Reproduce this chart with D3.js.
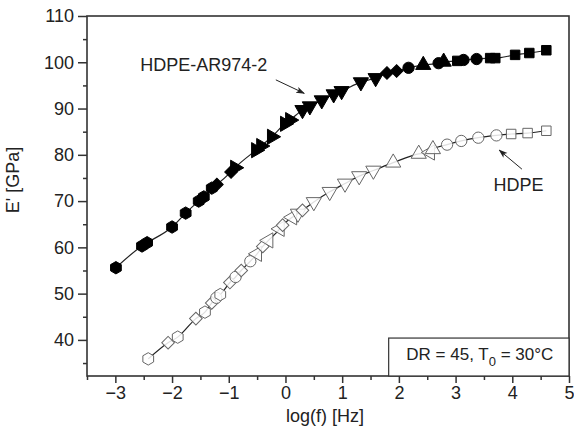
<!DOCTYPE html>
<html>
<head>
<meta charset="utf-8">
<script src="https://cdn.jsdelivr.net/npm/d3@7"></script>
<style>
  body { margin: 0; background: #fff; }
  text { font-family: "Liberation Sans", Arial, sans-serif; fill: #222; }
</style>
</head>
<body>
<div id="chart"></div>
<script>
// filled series: HDPE-AR974-2  [log f, E', shape]
const arX = [-2.99, -2.53, -2.44, -2.00, -1.76, -1.53, -1.44, -1.30,
             -1.21, -0.96,
             -0.89, -0.52, -0.43, -0.24, -0.01, 0.08,
             0.30, 0.43, 0.64, 0.85, 0.99, 1.33, 1.59,
             1.79, 1.96,
             2.17, 2.43, 2.70, 2.79,
             3.03, 3.14, 3.37, 3.61, 3.70, 4.05, 4.30, 4.60];
const arY = [55.6, 60.3, 61.0, 64.4, 67.4, 70.0, 70.9, 72.8,
             73.6, 76.3,
             77.2, 81.0, 81.9, 83.9, 86.7, 87.5,
             89.7, 90.5, 91.8, 93.1, 93.8, 95.7, 96.6,
             97.7, 98.1,
             98.8, 99.4, 99.8, 100.1,
             100.3, 100.5, 100.7, 100.9, 100.9, 101.6, 102.0, 102.6];
const arShape = ["hex", "hex", "hex", "hex", "hex", "hex", "hex", "hex",
                 "dia", "dia",
                 "tri-r", "tri-r", "tri-r", "tri-r", "tri-r", "tri-r",
                 "tri-d", "tri-d", "tri-d", "tri-d", "tri-d", "tri-d", "tri-d",
                 "dia", "dia",
                 "circ", "tri-u", "circ", "tri-u",
                 "sq", "circ", "circ", "sq", "sq", "sq", "sq", "sq"];

// open series: HDPE
const hdX = [-2.42, -2.07, -1.90, -1.58, -1.42, -1.30, -1.22, -1.15,
             -0.98, -0.88, -0.78, -0.62, -0.50, -0.40, -0.30, -0.10, -0.05,
             0.12, 0.22, 0.30, 0.50, 0.78, 1.05, 1.30, 1.55,
             1.90, 2.35, 2.55, 2.60,
             2.85, 3.10, 3.40, 3.72, 3.98, 4.27, 4.60];
const hdY = [35.9, 39.4, 40.6, 44.6, 46.0, 48.0, 49.1, 49.8,
             52.4, 53.6, 55.0, 57.0, 58.6, 60.2, 61.5, 64.0, 64.8,
             66.5, 67.3, 68.0, 69.8, 72.0, 73.8, 75.4, 76.6,
             78.3, 80.2, 80.5, 81.2,
             82.2, 83.0, 83.7, 84.2, 84.5, 84.7, 85.2];
const hdShape = ["hex", "dia", "hex", "dia", "hex", "dia", "circ", "hex",
                 "dia", "circ", "dia", "circ", "tri-l", "dia", "tri-l", "tri-l", "dia",
                 "tri-l", "tri-d", "dia", "tri-d", "tri-d", "tri-d", "tri-d", "tri-d",
                 "tri-u", "tri-u", "tri-l", "tri-u",
                 "circ", "circ", "circ", "circ", "sq", "sq", "sq"];

const xTicks = [-3, -2, -1, 0, 1, 2, 3, 4, 5];
const yTicks = [40, 50, 60, 70, 80, 90, 100, 110];

const margin = {top: 16, right: 5, bottom: 53, left: 87},
      width = 574 - margin.left - margin.right,
      height = 429 - margin.top - margin.bottom;

const svg = d3.select("#chart").append("svg")
  .attr("width", 574).attr("height", 429);
const g = svg.append("g").attr("transform", `translate(${margin.left},${margin.top})`);

const x = d3.scaleLinear().domain([-3.5, 5]).range([0, width]);
const y = d3.scaleLinear().domain([32.2, 110]).range([height, 0]);

const fmt = d => (d < 0 ? "\u2212" + Math.abs(d) : "" + d);

// axes
const xAxis = g.append("g").attr("transform", `translate(0,${height})`)
  .call(d3.axisBottom(x).tickValues(xTicks).tickFormat(fmt).tickSize(7).tickSizeOuter(0).tickPadding(3));
const xMinor = g.append("g").attr("transform", `translate(0,${height})`)
  .call(d3.axisBottom(x).tickValues(d3.range(-3.5, 5, 1)).tickFormat("").tickSize(4).tickSizeOuter(0));
const yAxis = g.append("g")
  .call(d3.axisLeft(y).tickValues(yTicks).tickSize(9).tickSizeOuter(0).tickPadding(4));
const yMinor = g.append("g")
  .call(d3.axisLeft(y).tickValues(d3.range(35, 110, 10)).tickFormat("").tickSize(4).tickSizeOuter(0));

[xAxis, xMinor, yAxis, yMinor].forEach(a => {
  a.select(".domain").remove();
  a.selectAll("line").attr("stroke", "#333").attr("stroke-width", 1.5);
  a.selectAll("text").style("font-size", "18px").attr("fill", "#222");
});

// frame
g.append("rect").attr("width", width).attr("height", height)
  .attr("fill", "none").attr("stroke", "#333").attr("stroke-width", 1.6);

// axis titles
g.append("text").attr("x", width / 2 - 3).attr("y", height + 46)
  .attr("text-anchor", "middle").style("font-size", "18px").text("log(f) [Hz]");
g.append("text").attr("transform", `translate(${-68},${164}) rotate(-90)`)
  .attr("text-anchor", "middle").style("font-size", "18px").text("E' [GPa]");

// symbol types
const hexagon = {
  draw(ctx, size) {
    const r = Math.sqrt(size / (1.5 * Math.sqrt(3)));
    for (let i = 0; i < 6; i++) {
      const a = Math.PI / 6 + i * Math.PI / 3;
      if (i === 0) ctx.moveTo(r * Math.cos(a), r * Math.sin(a));
      else ctx.lineTo(r * Math.cos(a), r * Math.sin(a));
    }
    ctx.closePath();
  }
};
const shapeDefs = {
  "hex":   {type: hexagon, size: 100, rot: 0},
  "dia":   {type: d3.symbolSquare, size: 80, rot: 45},
  "circ":  {type: d3.symbolCircle, size: 100, rot: 0},
  "sq":    {type: d3.symbolSquare, size: 90, rot: 0},
  "tri-u": {type: d3.symbolTriangle, size: 100, rot: 0},
  "tri-d": {type: d3.symbolTriangle, size: 100, rot: 180},
  "tri-l": {type: d3.symbolTriangle, size: 100, rot: -90},
  "tri-r": {type: d3.symbolTriangle, size: 100, rot: 90}
};

function drawSeries(xs, ys, shapes, filled) {
  const pts = xs.map((v, i) => ({x: v, y: ys[i], s: shapes[i]}));
  const sorted = pts.slice().sort((a, b) => a.x - b.x);
  g.append("path").datum(sorted)
    .attr("fill", "none").attr("stroke", "#222").attr("stroke-width", 1.2)
    .attr("d", d3.line().x(d => x(d.x)).y(d => y(d.y)).curve(d3.curveMonotoneX));
  g.selectAll(null).data(pts).enter().append("path")
    .attr("transform", d => `translate(${x(d.x)},${y(d.y)}) rotate(${shapeDefs[d.s].rot})`)
    .attr("d", d => d3.symbol().type(shapeDefs[d.s].type).size(shapeDefs[d.s].size)())
    .attr("fill", filled ? "#000" : "#fff")
    .attr("fill-opacity", filled ? 1 : 0.85)
    .attr("stroke", filled ? "#000" : "#666")
    .attr("stroke-width", 1);
}

drawSeries(hdX, hdY, hdShape, false);
drawSeries(arX, arY, arShape, true);

// annotations
svg.append("defs").append("marker")
  .attr("id", "arrow").attr("viewBox", "0 0 10 10").attr("refX", 9).attr("refY", 5)
  .attr("markerWidth", 9).attr("markerHeight", 9).attr("orient", "auto")
  .append("path").attr("d", "M0,1.5 L10,5 L0,8.5 L2.5,5 Z").attr("fill", "#222");

const annos = [
  {label: "HDPE-AR974-2", tx: -1.44, ty: 99.2, x1: -0.17, y1: 96.2, x2: 0.33, y2: 93.3},
  {label: "HDPE", tx: 4.11, ty: 73.1, x1: 4.17, y1: 76.9, x2: 3.77, y2: 81.0}
];
annos.forEach(a => {
  g.append("line").attr("x1", x(a.x1)).attr("y1", y(a.y1)).attr("x2", x(a.x2)).attr("y2", y(a.y2))
    .attr("stroke", "#222").attr("stroke-width", 1).attr("marker-end", "url(#arrow)");
  g.append("text").attr("x", x(a.tx)).attr("y", y(a.ty)).attr("text-anchor", "middle")
    .attr("dominant-baseline", "middle").style("font-size", "18px").text(a.label);
});

// condition box
const bx = x(1.82), by = y(40.4);
g.append("rect").attr("x", bx).attr("y", by).attr("width", width - bx).attr("height", height - by)
  .attr("fill", "#fff").attr("stroke", "#333").attr("stroke-width", 1.2);
const t = g.append("text").attr("x", (bx + width) / 2 + 1).attr("y", (by + height) / 2 + 3)
  .attr("text-anchor", "middle").style("font-size", "17px");
t.append("tspan").text("DR = 45, T");
t.append("tspan").attr("dy", 6).style("font-size", "13px").text("0");
t.append("tspan").attr("dy", -6).text(" = 30\u00b0C");
</script>
</body>
</html>
